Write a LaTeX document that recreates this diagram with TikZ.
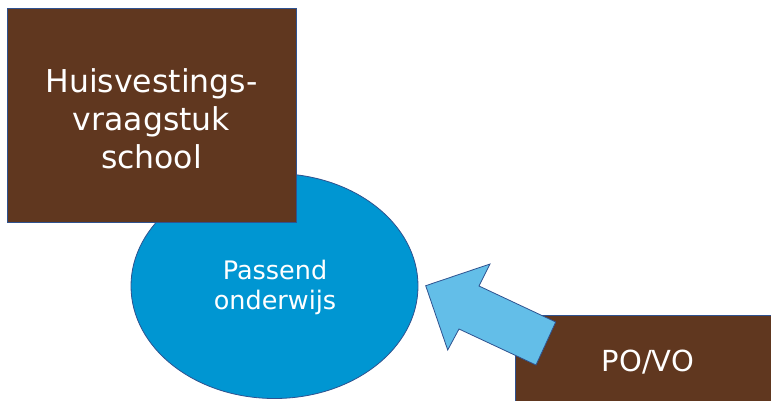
\documentclass[tikz,border=0pt]{standalone}
\usepackage{fontspec}
\setmainfont{DejaVu Sans}
\usetikzlibrary{shapes.geometric}
\definecolor{brownbox}{RGB}{96,55,31}
\definecolor{edgeblue}{RGB}{47,82,143}
\definecolor{ellfill}{RGB}{0,150,210}
\definecolor{arrfill}{RGB}{99,190,232}
\begin{document}
\begin{tikzpicture}[x=1pt,y=-1pt,
  boxstyle/.style={fill=brownbox,draw=edgeblue,line width=0.8pt},
  txt/.style={text=white,align=center,inner sep=0pt}]
\useasboundingbox (0,0) rectangle (771,400);
\clip (0,0) rectangle (771,400);
% ellipse
\node[ellipse,fill=ellfill,draw=edgeblue,line width=0.8pt,minimum width=287pt,minimum height=225pt,inner sep=0pt] (po) at (274.5,286) {};
\node[txt,font=\fontsize{25.5}{30}\selectfont] (potxt) at (275,287) {Passend\\onderwijs};
% top-left box
\draw[boxstyle] (7.5,8.5) rectangle (296,222.5);
\node[txt,font=\fontsize{31.5}{38}\selectfont] (hv) at (151.5,119) {Huisvestings-\\vraagstuk\\school};
% bottom-right box
\draw[boxstyle] (515,315) rectangle (775,405);
\node[txt,font=\fontsize{29}{35}\selectfont] (povo) at (648,362) {PO/VO};
% arrow
\draw[fill=arrfill,draw=edgeblue,line width=0.8pt,line join=miter]
  (425.7,285.7) -- (490,264) -- (479,286) -- (555.7,322) -- (536,365) -- (459,329) -- (447.7,350) -- cycle;
\end{tikzpicture}
\end{document}
